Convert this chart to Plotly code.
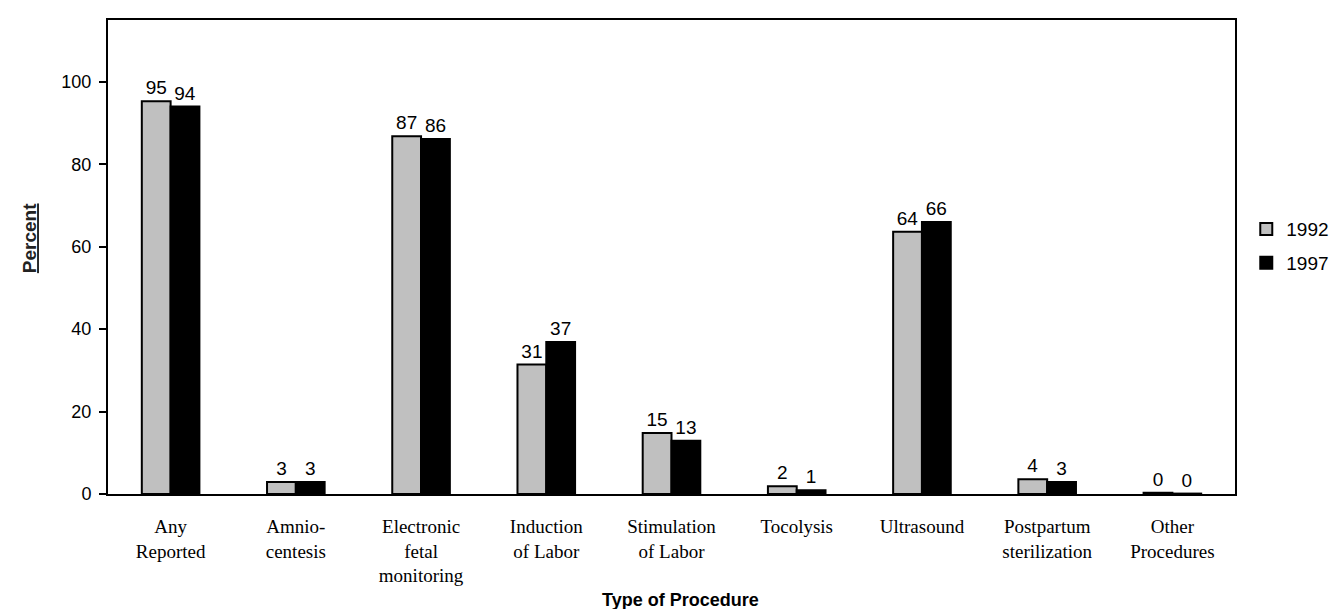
import plotly.graph_objects as go

categories = ["Any<br>Reported", "Amnio-<br>centesis", "Electronic<br>fetal<br>monitoring",
              "Induction<br>of Labor", "Stimulation<br>of Labor", "Tocolysis", "Ultrasound",
              "Postpartum<br>sterilization", "Other<br>Procedures"]
values_1992 = [95.3, 2.9, 86.8, 31.4, 14.8, 1.9, 63.6, 3.6, 0.3]
values_1997 = [94.0, 2.9, 86.1, 36.9, 12.9, 0.9, 66.0, 2.9, 0.1]
labels_1992 = ["95", "3", "87", "31", "15", "2", "64", "4", "0"]
labels_1997 = ["94", "3", "86", "37", "13", "1", "66", "3", "0"]

ARIAL = "Arial, Liberation Sans, sans-serif"
TIMES = "Times New Roman, Liberation Serif, serif"

fig = go.Figure()
fig.add_trace(go.Bar(x=categories, y=values_1992, name="1992", text=labels_1992,
                     textposition="outside", cliponaxis=False, legendgroup="a",
                     textfont=dict(family=ARIAL, size=19, color="black"),
                     marker=dict(color="#c0c0c0", line=dict(color="black", width=2))))
fig.add_trace(go.Bar(x=categories, y=values_1997, name="1997", text=labels_1997,
                     textposition="outside", cliponaxis=False, legendgroup="b",
                     textfont=dict(family=ARIAL, size=19, color="black"),
                     marker=dict(color="black", line=dict(color="black", width=2))))

fig.update_layout(
    width=1338, height=609,
    margin=dict(l=100, r=96, t=12, b=123),
    plot_bgcolor="white", paper_bgcolor="white",
    barmode="group", bargap=0.54, bargroupgap=0,
    showlegend=True,
    legend=dict(x=1.01, y=0.523, xanchor="left", yanchor="middle",
                font=dict(family=ARIAL, size=19, color="black"),
                bgcolor="rgba(0,0,0,0)", itemwidth=30, tracegroupgap=6),
    xaxis=dict(showline=True, linecolor="black", linewidth=2, mirror=True,
               ticks="", showgrid=False, automargin=False, ticklabelstandoff=14,
               tickfont=dict(family=TIMES, size=19, color="black")),
    yaxis=dict(range=[0, 115], tickvals=[0, 20, 40, 60, 80, 100],
               showline=True, linecolor="black", linewidth=2, mirror=True,
               ticks="outside", ticklen=7, tickcolor="black", tickwidth=1.5,
               showgrid=False, zeroline=False, automargin=False, ticklabelstandoff=4,
               tickfont=dict(family=ARIAL, size=18, color="black")),
    font=dict(family=ARIAL, color="black"),
    annotations=[
        dict(text="<b>Type of Procedure</b>", xref="paper", yref="paper",
             x=0.508, y=-0.224, xanchor="center", yanchor="middle", showarrow=False,
             font=dict(family=ARIAL, size=18, color="black")),
        dict(text="<b><u>Percent</u></b>", xref="paper", yref="paper",
             x=-0.070, y=0.54, xanchor="center", yanchor="middle", showarrow=False,
             textangle=-90, font=dict(family=ARIAL, size=19, color="#222222")),
    ],
)

fig.write_html("out.html")
